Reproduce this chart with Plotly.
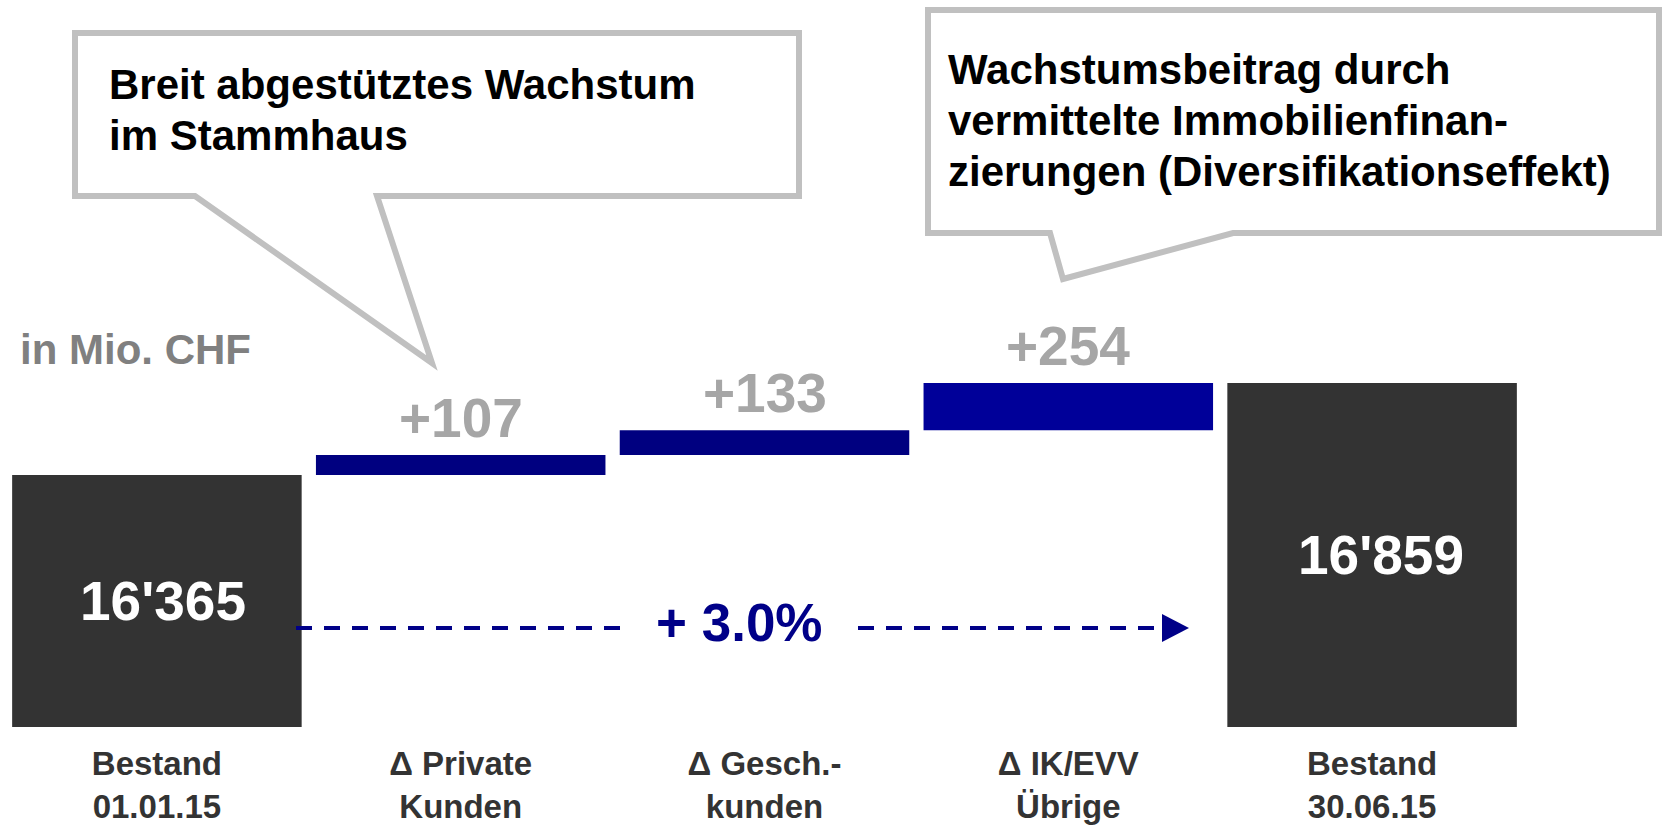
import plotly.graph_objects as go

# ---------------- data ----------------
categories = ["Bestand<br>01.01.15", "Δ Private<br>Kunden", "Δ Gesch.-<br>kunden",
              "Δ IK/EVV<br>Übrige", "Bestand<br>30.06.15"]
start_value = 16365
deltas = [107, 133, 254]
end_value = 16859
unit_label = "in Mio. CHF"
callout_left_lines = ["Breit abgestütztes Wachstum", "im Stammhaus"]
callout_right_lines = ["Wachstumsbeitrag durch", "vermittelte Immobilienfinan-",
                       "zierungen (Diversifikationseffekt)"]

# ---------------- geometry / style ----------------
W, H = 1666, 826
ML, MR, MT, MB = 5, 142, 0, 99
PW, PH = W - ML - MR, H - MT - MB
AXIS_FLOOR = 15012          # truncated (broken) value axis
AXIS_CEIL = 18916
FONT = "Liberation Sans, Arial, sans-serif"
NAVY = "#000088"
DARK = "#333333"
GREY_BOX = "#C0C0C0"


def px(x):
    return (x - ML) / PW


def py(y):
    return (H - MB - y) / PH


def fmt(v):
    return f"{v:,}".replace(",", "'")


# bars derived from the data
bases, heights, colors = [], [], []
bases.append(AXIS_FLOOR)
heights.append(start_value - AXIS_FLOOR)
colors.append(DARK)
running = start_value
delta_colors = ["#000080", "#000080", "#000099"]
delta_tops = []
for d, c in zip(deltas, delta_colors):
    bases.append(running)
    heights.append(d)
    colors.append(c)
    running += d
    delta_tops.append(running)
bases.append(AXIS_FLOOR)
heights.append(end_value - AXIS_FLOOR)
colors.append(DARK)

growth = (end_value / start_value - 1) * 100

fig = go.Figure(go.Bar(
    x=categories, y=heights, base=bases,
    marker=dict(color=colors, line=dict(width=0)),
    cliponaxis=False, hoverinfo="skip", width=0.953,
))

shapes = []


def poly(points):
    return "M " + " L ".join(f"{px(a):.5f},{py(b):.5f}" for a, b in points) + " Z"


# callout 1
shapes.append(dict(type="path", xref="paper", yref="paper",
                   path=poly([(75, 33), (799, 33), (799, 196), (377, 196), (432, 363),
                              (195, 196), (75, 196)]),
                   line=dict(color=GREY_BOX, width=6), fillcolor="white", layer="above"))
# callout 2
shapes.append(dict(type="path", xref="paper", yref="paper",
                   path=poly([(928, 10), (1659, 10), (1659, 233), (1233, 233), (1063, 279),
                              (1050, 233), (928, 233)]),
                   line=dict(color=GREY_BOX, width=6), fillcolor="white", layer="above"))
# dashed growth arrow
for x0, x1 in [(296, 620), (858, 1162)]:
    shapes.append(dict(type="line", xref="paper", yref="paper",
                       x0=px(x0), x1=px(x1), y0=py(628), y1=py(628),
                       line=dict(color=NAVY, width=4, dash="16px,12px"), layer="above"))
shapes.append(dict(type="path", xref="paper", yref="paper",
                   path=poly([(1162, 614), (1189, 628), (1162, 642)]),
                   line=dict(color=NAVY, width=0), fillcolor=NAVY, layer="above"))

annotations = []
CALL_FS = 42
for line, base in zip(callout_left_lines, [99, 150]):
    annotations.append(dict(text=f"<b>{line}</b>", xref="paper", yref="paper",
                            x=px(107), y=py(base - 0.3465 * CALL_FS), xanchor="left",
                            yanchor="middle", showarrow=False,
                            font=dict(family=FONT, size=CALL_FS, color="black")))
for line, base in zip(callout_right_lines, [84, 135, 186]):
    annotations.append(dict(text=f"<b>{line}</b>", xref="paper", yref="paper",
                            x=px(946), y=py(base - 0.3465 * CALL_FS), xanchor="left",
                            yanchor="middle", showarrow=False,
                            font=dict(family=FONT, size=CALL_FS, color="black")))
annotations.append(dict(text=f"<b>{unit_label}</b>", xref="paper", yref="paper",
                        x=px(18), y=py(364 - 0.3465 * 42), xanchor="left", yanchor="middle",
                        showarrow=False, font=dict(family=FONT, size=42, color="#808080")))
annotations.append(dict(text=f"<b>+ {growth:.1f}%</b>", xref="paper", yref="paper",
                        x=px(739), y=py(622), xanchor="center", yanchor="middle",
                        showarrow=False, font=dict(family=FONT, size=53, color=NAVY)))
# delta value labels above the floating bars
for cat, top, d in zip(categories[1:4], delta_tops, deltas):
    annotations.append(dict(text=f"<b>+{d}</b>", x=cat, y=top, xref="x", yref="y",
                            xanchor="center", yanchor="bottom", yshift=4, showarrow=False,
                            font=dict(family=FONT, size=55, color="#A6A6A6")))
# stock labels centred in the stock bars
for cat, val, xs in [(categories[0], start_value, 6), (categories[4], end_value, 9)]:
    annotations.append(dict(text=f"<b>{fmt(val)}</b>", x=cat, y=(AXIS_FLOOR + val) / 2,
                            xref="x", yref="y", xanchor="center", yanchor="middle",
                            xshift=xs, showarrow=False,
                            font=dict(family=FONT, size=55, color="white")))

fig.update_layout(
    width=W, height=H, autosize=False,
    margin=dict(l=ML, r=MR, t=MT, b=MB, pad=0),
    paper_bgcolor="white", plot_bgcolor="white",
    showlegend=False, bargap=0.047,
    xaxis=dict(type="category", categoryorder="array", categoryarray=categories,
               range=[-0.5, 4.5], showgrid=False, zeroline=False, showline=False,
               ticks="", ticklabelstandoff=14,
               tickfont=dict(family=FONT, size=33, color=DARK, weight="bold")),
    yaxis=dict(range=[AXIS_FLOOR, AXIS_CEIL], visible=False, showgrid=False),
    shapes=shapes, annotations=annotations,
)

fig.write_html("out.html", config={"displayModeBar": False},
               post_script="document.body.style.margin='0';")
